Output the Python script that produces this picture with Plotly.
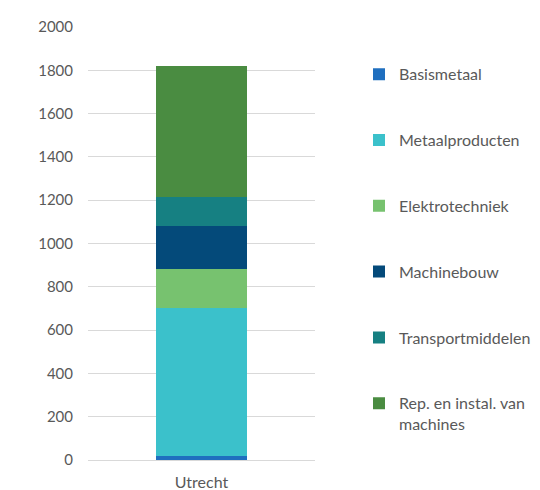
import plotly.graph_objects as go

categories = ["Utrecht"]
series_names = ["Basismetaal", "Metaalproducten", "Elektrotechniek", "Machinebouw",
                "Transportmiddelen", "Rep. en instal. van<br>machines"]
series_values = [[18], [682], [181], [201], [133], [606]]
colors = ["#1F6FBF", "#3BC1CB", "#77C26F", "#044A7A", "#168082", "#4A8C41"]
y_ticks = [0, 200, 400, 600, 800, 1000, 1200, 1400, 1600, 1800, 2000]

fig = go.Figure()
for i, (name, vals, col) in enumerate(zip(series_names, series_values, colors)):
    fig.add_trace(go.Bar(x=categories, y=vals, name=name, marker_color=col,
                         marker_line_width=0, width=0.405, legendgroup=str(i)))

fig.update_layout(
    barmode="stack",
    width=540, height=490,
    margin=dict(l=80, r=233, t=19, b=38),
    plot_bgcolor="white", paper_bgcolor="white",
    font=dict(family="Lato, Noto Sans, sans-serif", size=15, color="#595959"),
    showlegend=True,
    legend=dict(traceorder="grouped", tracegroupgap=42, xref="container", x=0.65,
                xanchor="left", y=0.93, yanchor="top", valign="top", itemwidth=30,
                font=dict(size=16, color="#595959")),
    bargap=0,
)
fig.update_yaxes(range=[0, 2000], tickvals=y_ticks, showgrid=True, gridcolor="#d9d9d9",
                 gridwidth=1, zeroline=False, showline=False, ticks="", ticklen=0,
                 automargin=False, ticklabelstandoff=14,
                 tickfont=dict(size=15, color="#595959"))
fig.update_xaxes(range=[-0.5, 0.5], showline=True, linecolor="#d9d9d9", linewidth=1,
                 ticks="", automargin=False, ticklabelstandoff=8,
                 tickfont=dict(size=16, color="#595959"))

fig.write_html("out.html")
